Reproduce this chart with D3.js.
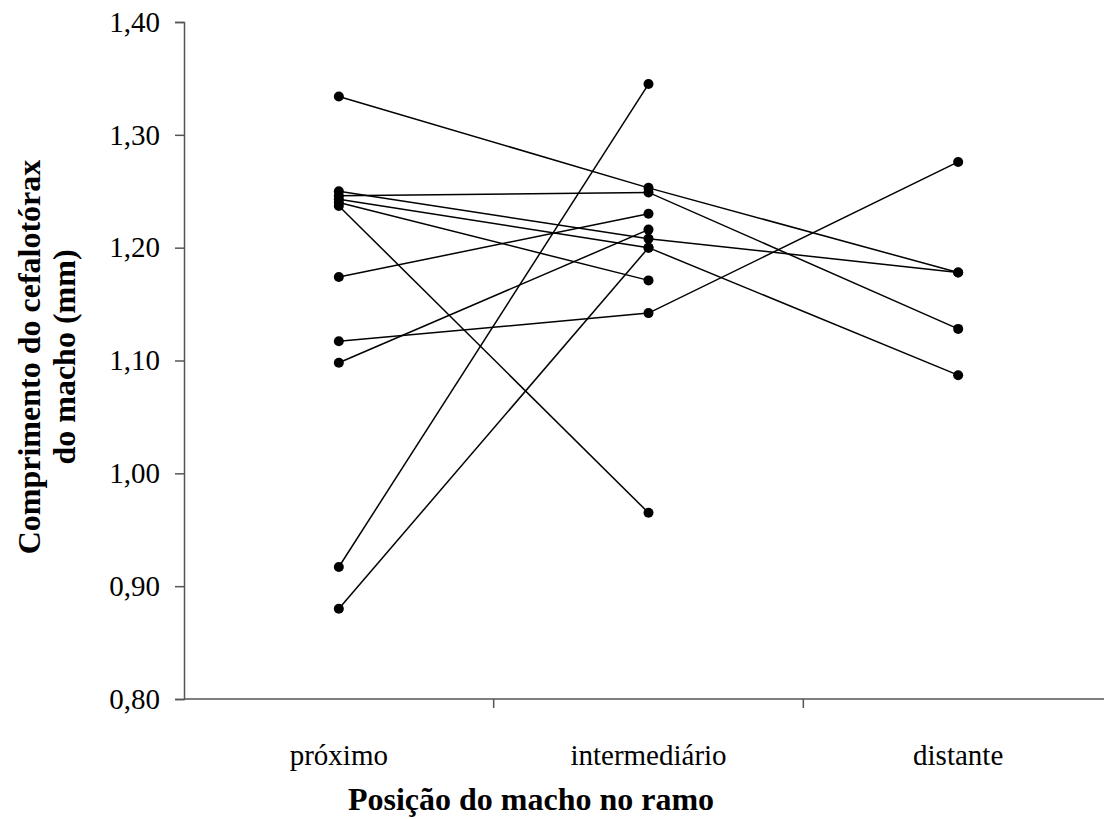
<!DOCTYPE html>
<html>
<head>
<meta charset="utf-8">
<script src="https://cdn.jsdelivr.net/npm/d3@7"></script>
<style>
  body { margin: 0; background: #fff; }
  text { font-family: "Liberation Serif", "Times New Roman", serif; }
</style>
</head>
<body>
<script>
// categorias do eixo x
var posicoes = ["próximo", "intermediário", "distante"];

// marcas do eixo y
var yTicks = [0.80, 0.90, 1.00, 1.10, 1.20, 1.30, 1.40];

// cada macho: comprimento em cada posição (null = sem dado)
var machos = [
  [1.334, 1.253, 1.178],
  [1.246, 1.249, 1.128],
  [1.250, 1.208, 1.178],
  [1.243, 1.200, 1.087],
  [1.240, 1.171, null],
  [1.237, 0.965, null],
  [1.174, 1.230, null],
  [1.117, 1.142, 1.276],
  [1.098, 1.216, null],
  [0.917, 1.345, null],
  [0.880, 1.200, null]
];

var svg = d3.select("body")
    .append("svg")
    .attr("width", 1104)
    .attr("height", 819);

var xScale = d3.scaleBand()
    .domain(posicoes)
    .range([184, 1113])
    .padding(0);

var yScale = d3.scaleLinear()
    .domain([0.80, 1.40])
    .range([699, 22]);

// eixo y
var yAxis = svg.append("g")
    .attr("transform", "translate(184,0)")
    .call(d3.axisLeft(yScale)
        .tickValues(yTicks)
        .tickSize(9)
        .tickPadding(15)
        .tickFormat(d => d3.format(".2f")(d).replace(".", ",")));
yAxis.select(".domain").attr("stroke", "#555").attr("stroke-width", 1.5);
yAxis.selectAll(".tick line").attr("stroke", "#555").attr("stroke-width", 1.5);
yAxis.selectAll(".tick text")
    .attr("font-size", 29)
    .attr("font-family", "Liberation Serif")
    .attr("fill", "#000");

// eixo x: linha, marcas entre categorias e rótulos
svg.append("line")
    .attr("x1", 184).attr("x2", 1104)
    .attr("y1", 699).attr("y2", 699)
    .attr("stroke", "#555").attr("stroke-width", 1.5);

svg.selectAll(".xtick")
    .data(posicoes)
    .enter()
    .append("line")
    .attr("x1", d => xScale(d) + xScale.bandwidth())
    .attr("x2", d => xScale(d) + xScale.bandwidth())
    .attr("y1", 699).attr("y2", 708)
    .attr("stroke", "#555").attr("stroke-width", 1.5);

svg.selectAll(".xlabel")
    .data(posicoes)
    .enter()
    .append("text")
    .attr("x", d => xScale(d) + xScale.bandwidth() / 2)
    .attr("y", 765)
    .attr("text-anchor", "middle")
    .attr("font-size", 29)
    .text(d => d);

// títulos
svg.append("text")
    .attr("x", 531).attr("y", 810)
    .attr("text-anchor", "middle")
    .attr("font-size", 32).attr("font-weight", "bold")
    .text("Posição do macho no ramo");

var yTitle = svg.append("text")
    .attr("transform", "translate(0,357) rotate(-90)")
    .attr("text-anchor", "middle")
    .attr("font-size", 32).attr("font-weight", "bold");
yTitle.append("tspan").attr("x", 0).attr("y", 40).text("Comprimento do cefalotórax");
yTitle.append("tspan").attr("x", 0).attr("y", 75).text("do macho (mm)");

// linhas de cada macho
var linha = d3.line()
    .defined(d => d.v != null)
    .x(d => xScale(d.pos) + xScale.bandwidth() / 2)
    .y(d => yScale(d.v));

var dados = machos.map(m => m.map((v, i) => ({ pos: posicoes[i], v: v })));

svg.selectAll(".macho")
    .data(dados)
    .enter()
    .append("path")
    .attr("d", linha)
    .attr("fill", "none")
    .attr("stroke", "#000")
    .attr("stroke-width", 1.5);

svg.selectAll(".ponto")
    .data(dados.flat().filter(d => d.v != null))
    .enter()
    .append("circle")
    .attr("cx", d => xScale(d.pos) + xScale.bandwidth() / 2)
    .attr("cy", d => yScale(d.v))
    .attr("r", 5)
    .attr("fill", "#000");
</script>
</body>
</html>
